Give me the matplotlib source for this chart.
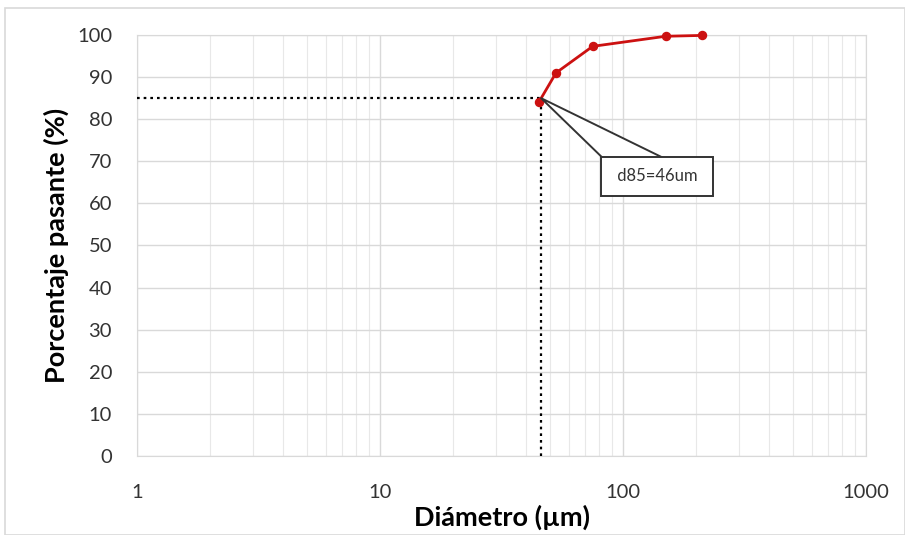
import matplotlib.pyplot as plt
from matplotlib.patches import Rectangle
from matplotlib.ticker import FixedLocator, LogLocator, NullFormatter

plt.rcParams["font.family"] = ["Lato", "DejaVu Sans"]

# Granulometric curve
diameter_um = [45, 53, 75, 150, 212]
passing_pct = [84.0, 91.0, 97.3, 99.7, 99.9]

d85_value = 46
d85_pct = 85
d85_label = "d85=46um"

x_ticks = [1, 10, 100, 1000]
y_ticks = list(range(0, 101, 10))

fig = plt.figure(figsize=(9.05, 5.35), dpi=100)
fig.patches.append(Rectangle((0.006, 0.0), 0.994, 0.985, transform=fig.transFigure,
                             fill=False, edgecolor="#d9d9d9", linewidth=1.2))
ax = fig.add_axes([0.1514, 0.1477, 0.8055, 0.7869])

ax.set_xscale("log")
ax.set_xlim(1, 1000)
ax.set_ylim(0, 100)

ax.xaxis.set_major_locator(FixedLocator(x_ticks))
ax.set_xticklabels([str(t) for t in x_ticks])
ax.xaxis.set_minor_locator(LogLocator(base=10, subs=range(2, 10)))
ax.xaxis.set_minor_formatter(NullFormatter())
ax.set_yticks(y_ticks)

ax.grid(which="major", color="#d9d9d9", linewidth=1.0)
ax.grid(which="minor", axis="x", color="#e8e8e8", linewidth=0.8)
ax.set_axisbelow(True)
for side in ax.spines.values():
    side.set_color("#d9d9d9")
ax.tick_params(which="both", length=0, labelsize=14.5, colors="#333333")
ax.tick_params(axis="y", pad=18)
ax.tick_params(axis="x", pad=20)

# d85 guide lines
ax.plot([1, d85_value], [d85_pct, d85_pct], color="black", linestyle=(0, (1.2, 1.8)),
        linewidth=1.6, zorder=3)
ax.plot([d85_value, d85_value], [0, d85_pct], color="black", linestyle=(0, (1.2, 1.8)),
        linewidth=1.6, zorder=3)

ax.plot(diameter_um, passing_pct, color="#cc1111", linewidth=2, marker="o",
        markersize=5.8, zorder=4, clip_on=False)

# callout: the wedge starts inside the box, so only its tip shows
ax.annotate(" " + d85_label + " ", xy=(d85_value, d85_pct), xytext=(138, 66.4),
            ha="center", va="center", fontsize=12, color="#333333", zorder=5,
            bbox=dict(boxstyle="square,pad=0.7", fc="white", ec="#333333", lw=1.4),
            arrowprops=dict(arrowstyle="wedge,tail_width=2.6",
                            patchA=None, shrinkA=0, shrinkB=0, relpos=(0.45, 0.5),
                            fc="white", ec="#333333", lw=1.4))

ax.set_xlabel("Diámetro (µm)", fontsize=19.5, fontweight="bold", labelpad=3)
ax.set_ylabel("Porcentaje pasante (%)", fontsize=19.5, fontweight="bold", labelpad=6)

fig.savefig("out.png", dpi=100)
